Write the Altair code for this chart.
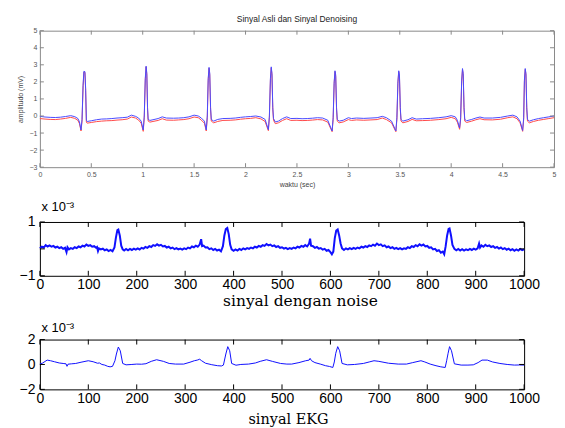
import altair as alt
import pandas as pd

TOP_TITLE = "Sinyal Asli dan Sinyal Denoising"

# (time [s], amplitude [mV]) of the denoised (blue) and original (red) signal
top_blue = [(0.00,-0.02),(0.05,-0.06),(0.10,-0.08),(0.15,-0.09),(0.20,-0.07),(0.25,-0.03),(0.30,0.02),(0.34,-0.04),(0.37,-0.15),(0.385,-0.35),(0.40,-0.82),(0.41,-0.2),(0.42,1.8),(0.428,2.62),(0.438,2.6),(0.445,1.6),(0.452,-0.25),(0.46,-0.32),(0.50,-0.28),(0.55,-0.22),(0.60,-0.18),(0.65,-0.17),(0.70,-0.15),(0.75,-0.12),(0.80,-0.10),(0.85,-0.07),(0.89,0.05),(0.93,-0.02),(0.96,-0.12),(0.985,-0.30),(1.005,-0.82),(1.015,0.0),(1.025,2.2),(1.033,2.92),(1.04,2.5),(1.047,0.5),(1.053,-0.2),(1.07,-0.26),(1.10,-0.22),(1.15,-0.15),(1.19,-0.05),(1.23,-0.12),(1.30,-0.13),(1.35,-0.12),(1.40,-0.10),(1.45,-0.05),(1.50,0.05),(1.54,0.0),(1.57,-0.12),(1.60,-0.30),(1.618,-0.82),(1.628,0.0),(1.637,2.2),(1.645,2.85),(1.652,2.5),(1.66,0.5),(1.667,-0.2),(1.69,-0.30),(1.73,-0.20),(1.78,-0.15),(1.85,-0.14),(1.90,-0.12),(1.95,-0.08),(2.00,-0.05),(2.05,-0.03),(2.10,0.0),(2.15,-0.06),(2.19,-0.20),(2.222,-0.80),(2.232,0.0),(2.242,2.2),(2.25,2.88),(2.257,2.5),(2.265,0.5),(2.272,-0.15),(2.29,-0.35),(2.32,-0.30),(2.36,-0.15),(2.40,-0.05),(2.44,-0.15),(2.50,-0.14),(2.55,-0.16),(2.60,-0.15),(2.65,-0.13),(2.70,-0.10),(2.75,-0.12),(2.80,-0.25),(2.842,-0.88),(2.852,-0.1),(2.862,2.0),(2.87,2.65),(2.877,2.4),(2.885,0.5),(2.892,-0.2),(2.91,-0.30),(2.95,-0.25),(3.00,-0.10),(3.03,-0.15),(3.08,-0.12),(3.15,-0.14),(3.22,-0.12),(3.28,-0.10),(3.33,-0.02),(3.37,-0.10),(3.42,-0.30),(3.462,-0.88),(3.472,-0.1),(3.482,2.0),(3.49,2.65),(3.497,2.4),(3.505,0.5),(3.512,-0.2),(3.53,-0.30),(3.58,-0.22),(3.62,-0.10),(3.66,-0.18),(3.72,-0.16),(3.80,-0.14),(3.88,-0.10),(3.95,-0.05),(4.00,0.02),(4.04,-0.05),(4.06,-0.25),(4.082,-0.70),(4.092,-0.1),(4.102,2.1),(4.11,2.78),(4.117,2.5),(4.125,0.5),(4.132,-0.2),(4.15,-0.28),(4.20,-0.20),(4.24,-0.12),(4.28,-0.06),(4.32,-0.12),(4.40,-0.12),(4.48,-0.08),(4.55,0.0),(4.60,0.05),(4.64,-0.05),(4.67,-0.30),(4.695,-0.85),(4.705,-0.1),(4.712,2.1),(4.72,2.78),(4.727,2.5),(4.735,0.5),(4.742,-0.2),(4.76,-0.30),(4.80,-0.22),(4.85,-0.15),(4.90,-0.10),(4.95,-0.05),(5.00,0.0)]

top_red = [(0.00,-0.15),(0.05,-0.18),(0.10,-0.2),(0.15,-0.21),(0.20,-0.18),(0.25,-0.14),(0.30,-0.08),(0.34,-0.14),(0.37,-0.26),(0.385,-0.45),(0.40,-0.88),(0.41,-0.3),(0.42,1.7),(0.428,2.58),(0.438,2.55),(0.445,1.5),(0.452,-0.35),(0.46,-0.42),(0.50,-0.38),(0.55,-0.33),(0.60,-0.3),(0.65,-0.28),(0.70,-0.27),(0.75,-0.24),(0.80,-0.22),(0.85,-0.18),(0.89,-0.06),(0.93,-0.12),(0.96,-0.24),(0.985,-0.42),(1.005,-0.9),(1.015,-0.1),(1.025,2.1),(1.033,2.88),(1.04,2.4),(1.047,0.4),(1.053,-0.3),(1.07,-0.36),(1.10,-0.32),(1.15,-0.26),(1.19,-0.16),(1.23,-0.24),(1.30,-0.25),(1.35,-0.23),(1.40,-0.21),(1.45,-0.16),(1.50,-0.06),(1.54,-0.1),(1.57,-0.24),(1.60,-0.42),(1.618,-0.88),(1.628,-0.1),(1.637,2.1),(1.645,2.8),(1.652,2.4),(1.66,0.4),(1.667,-0.3),(1.69,-0.4),(1.73,-0.32),(1.78,-0.26),(1.85,-0.25),(1.90,-0.23),(1.95,-0.19),(2.00,-0.16),(2.05,-0.14),(2.10,-0.1),(2.15,-0.17),(2.19,-0.32),(2.222,-0.86),(2.232,-0.1),(2.242,2.1),(2.25,2.82),(2.257,2.4),(2.265,0.4),(2.272,-0.25),(2.29,-0.45),(2.32,-0.4),(2.36,-0.26),(2.40,-0.16),(2.44,-0.26),(2.50,-0.25),(2.55,-0.27),(2.60,-0.26),(2.65,-0.24),(2.70,-0.21),(2.75,-0.23),(2.80,-0.36),(2.842,-0.92),(2.852,-0.2),(2.862,1.9),(2.87,2.6),(2.877,2.3),(2.885,0.4),(2.892,-0.3),(2.91,-0.4),(2.95,-0.35),(3.00,-0.21),(3.03,-0.26),(3.08,-0.23),(3.15,-0.25),(3.22,-0.23),(3.28,-0.21),(3.33,-0.12),(3.37,-0.21),(3.42,-0.4),(3.462,-0.92),(3.472,-0.2),(3.482,1.9),(3.49,2.6),(3.497,2.3),(3.505,0.4),(3.512,-0.3),(3.53,-0.4),(3.58,-0.32),(3.62,-0.2),(3.66,-0.28),(3.72,-0.27),(3.80,-0.25),(3.88,-0.21),(3.95,-0.16),(4.00,-0.08),(4.04,-0.16),(4.06,-0.36),(4.082,-0.78),(4.092,-0.2),(4.102,2.0),(4.11,2.72),(4.117,2.4),(4.125,0.4),(4.132,-0.3),(4.15,-0.38),(4.20,-0.3),(4.24,-0.22),(4.28,-0.16),(4.32,-0.22),(4.40,-0.23),(4.48,-0.19),(4.55,-0.1),(4.60,-0.05),(4.64,-0.16),(4.67,-0.4),(4.695,-0.9),(4.705,-0.2),(4.712,2.0),(4.72,2.72),(4.727,2.4),(4.735,0.4),(4.742,-0.3),(4.76,-0.4),(4.80,-0.32),(4.85,-0.25),(4.90,-0.2),(4.95,-0.15),(5.00,-0.1)]

# (sample, value x 1e-3) noisy signal
noise_sig = [(0,0.02),(4,0.08),(8,0.05),(12,0.14),(16,0.09),(20,0.13),(24,0.08),(28,0.11),(32,0.05),(36,0.08),(40,0.03),(44,0.06),(48,0.0),(52,0.04),(55,-0.12),(57,0.06),(60,-0.02),(64,0.03),(68,0.0),(72,0.06),(76,0.03),(80,0.09),(84,0.06),(88,0.12),(92,0.09),(96,0.16),(100,0.11),(104,0.14),(108,0.08),(112,0.1),(116,0.04),(118,0.07),(120,-0.08),(122,0.02),(126,-0.02),(130,0.01),(134,-0.05),(138,-0.02),(142,-0.08),(146,-0.04),(150,-0.09),(154,0.05),(157,0.42),(160,0.7),(162,0.72),(165,0.5),(168,0.12),(171,-0.02),(174,-0.06),(178,0.0),(182,-0.05),(186,0.0),(190,-0.04),(194,0.01),(198,-0.03),(202,0.02),(206,-0.02),(210,0.04),(214,0.01),(218,0.07),(222,0.04),(226,0.1),(230,0.07),(234,0.14),(238,0.11),(242,0.17),(246,0.12),(250,0.15),(254,0.09),(258,0.11),(262,0.05),(266,0.08),(270,0.02),(274,0.05),(278,-0.01),(282,0.03),(286,-0.02),(290,0.01),(294,-0.03),(298,0.02),(302,-0.01),(306,0.05),(310,0.02),(314,0.09),(318,0.06),(322,0.12),(326,0.08),(330,0.16),(333,0.36),(335,0.1),(338,0.12),(342,0.05),(346,0.06),(350,-0.01),(354,0.02),(358,-0.04),(362,0.0),(366,-0.06),(370,-0.03),(374,-0.09),(378,0.1),(381,0.5),(384,0.74),(387,0.78),(390,0.55),(393,0.15),(396,-0.02),(400,-0.07),(404,-0.02),(408,-0.06),(412,0.0),(416,-0.04),(420,0.02),(424,-0.02),(428,0.03),(432,0.0),(436,0.05),(440,0.02),(444,0.08),(448,0.05),(452,0.11),(456,0.08),(460,0.14),(464,0.11),(468,0.18),(472,0.13),(476,0.16),(480,0.1),(484,0.13),(488,0.07),(492,0.1),(496,0.04),(500,0.06),(504,0.01),(508,0.04),(512,-0.01),(516,0.03),(520,0.0),(524,0.05),(528,0.02),(532,0.08),(536,0.05),(540,0.11),(544,0.08),(548,0.14),(552,0.09),(556,0.2),(558,0.38),(560,0.12),(564,0.1),(568,0.04),(572,0.07),(576,0.01),(580,0.03),(584,-0.03),(588,0.0),(592,-0.07),(596,-0.04),(600,-0.12),(603,-0.2),(606,-0.1),(609,0.4),(612,0.68),(615,0.72),(618,0.5),(621,0.2),(624,0.02),(628,-0.04),(632,0.02),(636,-0.02),(640,0.03),(644,-0.01),(648,0.04),(652,0.0),(656,0.05),(660,0.02),(664,0.08),(668,0.05),(672,0.1),(676,0.07),(680,0.13),(684,0.1),(688,0.16),(692,0.12),(696,0.2),(700,0.14),(704,0.17),(708,0.1),(712,0.13),(716,0.06),(720,0.09),(724,0.03),(728,0.06),(732,0.0),(736,0.04),(740,-0.01),(744,0.03),(748,-0.02),(752,0.02),(756,0.0),(760,0.06),(764,0.03),(768,0.1),(772,0.07),(776,0.14),(780,0.1),(784,0.17),(788,0.12),(792,0.16),(796,0.09),(800,0.11),(804,0.04),(808,0.06),(812,-0.02),(816,0.0),(820,-0.08),(824,-0.05),(828,-0.14),(832,-0.1),(835,-0.2),(838,0.1),(841,0.5),(844,0.74),(846,0.76),(849,0.5),(852,0.15),(856,0.0),(860,-0.05),(864,0.0),(868,-0.06),(872,-0.01),(876,-0.06),(880,-0.02),(884,-0.05),(888,0.0),(892,-0.04),(896,0.01),(900,-0.03),(904,0.02),(907,0.2),(909,0.05),(912,0.13),(916,0.08),(920,0.15),(924,0.1),(928,0.13),(932,0.07),(936,0.1),(940,0.04),(944,0.07),(948,0.01),(952,0.05),(956,-0.01),(960,0.03),(964,-0.03),(968,0.01),(972,-0.05),(976,-0.01),(980,-0.07),(984,-0.02),(988,-0.06),(992,0.0),(996,-0.05),(1000,-0.02)]

# (sample, value x 1e-3) clean EKG
ekg_sig = [(0,0.05),(5,0.1),(15,0.35),(22,0.3),(30,0.22),(40,0.12),(48,0.08),(54,0.05),(56,-0.15),(58,0.02),(65,0.05),(74,0.08),(85,0.18),(100,0.3),(110,0.22),(119,0.1),(123,0.12),(128,0.0),(134,-0.05),(140,-0.15),(145,-0.19),(150,-0.15),(155,0.3),(158,0.84),(162,1.4),(166,1.1),(171,0.08),(178,-0.03),(190,0.0),(200,0.03),(210,0.02),(219,0.06),(230,0.25),(241,0.38),(255,0.25),(267,0.08),(280,0.03),(297,0.03),(310,0.18),(319,0.3),(325,0.35),(330,0.42),(334,0.3),(342,0.1),(355,-0.02),(367,-0.1),(375,-0.12),(379,-0.05),(384,0.84),(388,1.43),(392,1.1),(396,0.08),(405,-0.06),(415,0.0),(431,0.03),(445,0.12),(455,0.25),(468,0.38),(480,0.25),(497,0.08),(510,0.03),(520,0.03),(535,0.15),(549,0.3),(556,0.35),(558,0.49),(561,0.3),(568,0.15),(580,0.02),(590,-0.1),(598,-0.16),(605,-0.24),(608,0.2),(611,0.9),(615,1.43),(619,1.1),(624,0.08),(635,-0.03),(650,0.0),(668,0.08),(680,0.2),(690,0.3),(700,0.25),(720,0.1),(740,0.03),(757,0.03),(770,0.15),(787,0.3),(795,0.2),(806,0.03),(818,-0.1),(828,-0.19),(837,-0.24),(840,0.3),(843,0.9),(846,1.43),(850,1.1),(856,0.05),(870,-0.05),(884,-0.05),(895,-0.03),(905,0.15),(913,0.35),(924,0.35),(935,0.2),(950,0.08),(965,0.0),(980,-0.05),(990,-0.04),(1000,-0.05)]

top_xticks = [0, 0.5, 1, 1.5, 2, 2.5, 3, 3.5, 4, 4.5, 5]
top_yticks = [-3, -2, -1, 0, 1, 2, 3, 4, 5]
low_xticks = [0, 100, 200, 300, 400, 500, 600, 700, 800, 900, 1000]
noise_yticks = [-1, 0, 1]
ekg_yticks = [-2, 0, 2]

SANS = "Liberation Sans"
SERIF = "DejaVu Serif"


def inner_ticks(xticks, yticks, xs, ys, xa, ya, w, h, L, color):
    xt = pd.DataFrame({"tv": xticks})
    yt = pd.DataFrame({"tv": yticks})
    X = alt.X("tv:Q", scale=xs, axis=xa)
    Y = alt.Y("tv:Q", scale=ys, axis=ya)
    base_x = alt.Chart(xt).mark_rule(color=color, strokeWidth=1)
    base_y = alt.Chart(yt).mark_rule(color=color, strokeWidth=1)
    return [
        base_x.encode(x=X, y=alt.value(h), y2=alt.value(h - L)),
        base_x.encode(x=X, y=alt.value(0), y2=alt.value(L)),
        base_y.encode(y=Y, x=alt.value(0), x2=alt.value(L)),
        base_y.encode(y=Y, x=alt.value(w - L), x2=alt.value(w)),
    ]


# ---------------- top panel ----------------
TW, TH = 516, 137
txs = alt.Scale(domain=[0, 5], nice=False, zero=False)
tys = alt.Scale(domain=[-3, 5], nice=False, zero=False)
blue_df = pd.DataFrame(top_blue, columns=["t", "v"])
red_df = pd.DataFrame(top_red, columns=["t", "v"])

tx_axis = alt.Axis(values=top_xticks, format="~g", ticks=False, domain=False, grid=False,
                   labelFont=SANS, labelFontSize=7, labelColor="#555555", labelPadding=3,
                   labelFlush=False, title="waktu (sec)", titleFont=SANS, titleFontSize=7,
                   titleFontWeight="normal", titleColor="#444444", titlePadding=3)
ty_axis = alt.Axis(values=top_yticks, format="d", ticks=False, domain=False, grid=False,
                   labelFont=SANS, labelFontSize=7, labelColor="#555555", labelPadding=3,
                   title="amplitudo (mV)", titleFont=SANS, titleFontSize=7,
                   titleFontWeight="normal", titleColor="#444444", titlePadding=5)

red_line = alt.Chart(red_df).mark_line(color="#ff4a4a", strokeWidth=1).encode(
    x=alt.X("t:Q", scale=txs, axis=tx_axis), y=alt.Y("v:Q", scale=tys, axis=ty_axis))
blue_line = alt.Chart(blue_df).mark_line(color="#4a4aff", strokeWidth=1).encode(
    x=alt.X("t:Q", scale=txs, axis=tx_axis), y=alt.Y("v:Q", scale=tys, axis=ty_axis))

top = alt.layer(red_line, blue_line,
                *inner_ticks(top_xticks, top_yticks, txs, tys, tx_axis, ty_axis, TW, TH, 4, "#8a8a8a")).properties(
    width=TW, height=TH,
    title=alt.TitleParams(TOP_TITLE, font=SANS, fontSize=8.5, fontWeight="normal", color="#222222", offset=3),
    view=alt.ViewBackground(stroke="#8a8a8a", strokeWidth=1),
)


# ---------------- lower panels ----------------
def low_panel(data, yticks, ydom, caption, cap_size, cap_x, cap_y, exp_y, w, h, stroke_w):
    df = pd.DataFrame(data, columns=["n", "v"])
    xs = alt.Scale(domain=[0, 1000], nice=False, zero=False)
    ys = alt.Scale(domain=ydom, nice=False, zero=False)
    xa = alt.Axis(values=low_xticks, format="d", ticks=False, domain=False, grid=False,
                  labelFont=SANS, labelFontSize=14, labelColor="#000000", labelPadding=2,
                  labelFlush=False, labelOverlap=False,
                  title=caption, titleFont=SERIF, titleFontSize=cap_size, titleFontWeight="normal",
                  titleColor="#000000", titleX=cap_x, titleY=cap_y, titleBaseline="alphabetic")
    ya = alt.Axis(values=yticks, format="d", ticks=False, domain=False, grid=False,
                  labelFont=SANS, labelFontSize=14, labelColor="#000000", labelPadding=5,
                  title="x 10\u207b\u00b3", titleFont=SANS, titleFontSize=13, titleFontWeight="normal",
                  titleColor="#000000", titleAngle=0, titleAlign="left", titleX=1, titleY=exp_y,
                  titleBaseline="bottom")
    line = alt.Chart(df).mark_line(color="#1010ff", strokeWidth=stroke_w).encode(
        x=alt.X("n:Q", scale=xs, axis=xa), y=alt.Y("v:Q", scale=ys, axis=ya))
    return alt.layer(line, *inner_ticks(low_xticks, yticks, xs, ys, xa, ya, w, h, 5, "#000000")).properties(
        width=w, height=h, view=alt.ViewBackground(stroke="#000000", strokeWidth=1))


p2 = low_panel(noise_sig, noise_yticks, [-1, 1], "sinyal dengan noise", 15.5, 261, 30, -9, 486, 54, 2.0)
p3 = low_panel(ekg_sig, ekg_yticks, [-2, 2], "sinyal EKG", 14.5, 249, 34, -5, 486, 50, 1.0)

chart = alt.vconcat(top, p2, p3, spacing=11).properties(
    padding={"left": 8, "top": 6, "right": 0, "bottom": 0},
    background="#ffffff",
)

chart.save("out.html", embed_options={"renderer": "svg", "actions": False})
